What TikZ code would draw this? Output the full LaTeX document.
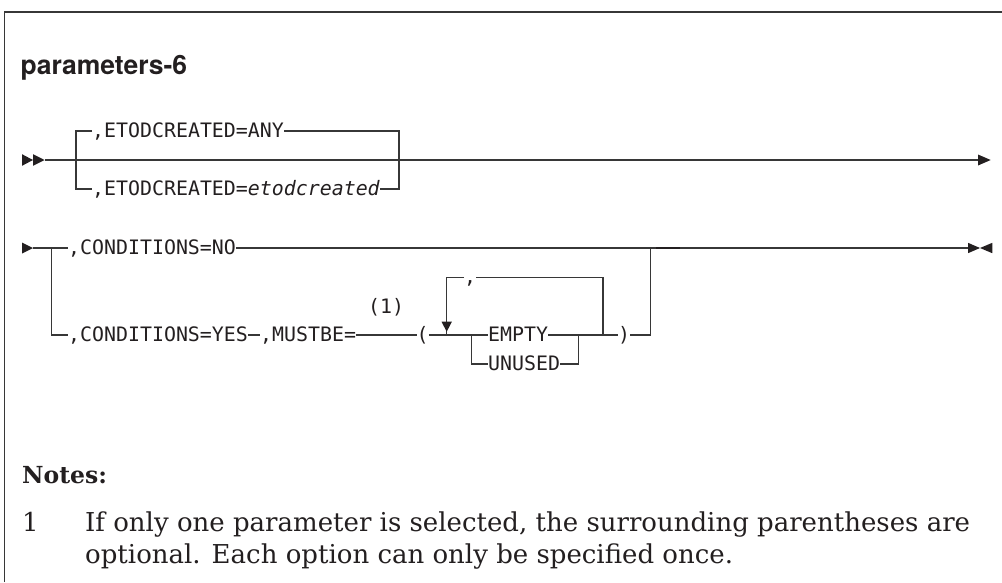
\documentclass[tikz,border=0pt]{standalone}
\usepackage{fontspec}
\newfontfamily\railfont{DejaVu Sans Mono}
\newfontfamily\titlefont{TeX Gyre Heros}
\newfontfamily\notesfont{DejaVu Serif}
\definecolor{ink}{RGB}{35,31,32}
\definecolor{ln}{RGB}{55,55,55}
\tikzset{
  rr/.style={font=\railfont\fontsize{19.9}{24}\selectfont, inner sep=0pt, text height=14pt, text depth=1pt, anchor=west, text=ink},
  wire/.style={draw=ln, line width=1.1pt},
  tip/.style={fill=ink, draw=none},
  notefont/.style={font=\notesfont\fontsize{26}{30}\selectfont, inner sep=0pt, anchor=base west, text=ink}
}
\begin{document}
\begin{tikzpicture}[x=1pt,y=-1pt]
\useasboundingbox (0,0) rectangle (1002,582);
% frame
\draw[ln, line width=1.3pt] (4.5,582) -- (4.5,12) -- (1002,12);
% title
\node[inner sep=0pt, anchor=base west, text=ink, font=\titlefont\bfseries\fontsize{26.5}{30}\selectfont] (title) at (20.5,74) {parameters-6};

% ---------- row 1 ----------
\coordinate (s1) at (44.5,160);
\coordinate (j1L) at (76,160);
\coordinate (j1R) at (399,160);
\coordinate (e1) at (978,160);
\node[rr] (any) at (92,131) {,ETODCREATED=ANY};
\node[rr] (etod) at (92,189) {,ETODCREATED=\textit{etodcreated}};
\draw[wire] (s1) -- (e1);
\draw[wire] (any.west) -| (j1L) |- (etod.west);
\draw[wire] (any.east) -| (j1R) |- (etod.east);
\fill[tip] (22,154.2) -- (33,160) -- (22,165.8) -- cycle;
\fill[tip] (33,154.2) -- (44.5,160) -- (33,165.8) -- cycle;
\fill[tip] (978,154.5) -- (990.7,160) -- (978,165.5) -- cycle;

% ---------- row 2 ----------
\coordinate (s2) at (33,248);
\coordinate (j2L) at (51.7,248);
\coordinate (j2R) at (650.7,248);
\coordinate (e2) at (968,248);
\coordinate (j3) at (446.7,335);
\coordinate (j4) at (471.7,335);
\coordinate (j5) at (578.3,335);
\coordinate (j6) at (603,335);
\node[rr] (no) at (68,248) {,CONDITIONS=NO};
\node[rr] (yes) at (68,335) {,CONDITIONS=YES};
\node[rr] (mustbe) at (260,335) {,MUSTBE=};
\node[rr] (ref1) at (368,306.5) {(1)};
\node[rr] (lpar) at (416.5,335) {(};
\node[rr] (sep) at (464,277.3) {,};
\node[rr] (empty) at (488,335) {EMPTY};
\node[rr] (unused) at (488,364) {UNUSED};
\node[rr] (rpar) at (618,335) {)};

\draw[wire] (s2) -- (j2L) |- (no.west);
\draw[wire] (no.east) -- (e2);
\draw[draw=ink, line width=1.8pt] (656,248) -- (680,248);
\draw[wire] (j2L) |- (yes.west);
\draw[wire] (yes.east) -- (mustbe.west);
\draw[wire] (mustbe.east) -- (lpar.west);
\draw[wire] (lpar.east) -- (j4) |- (empty.west);
\draw[wire] (j4) |- (unused.west);
\draw[wire] (empty.east) -- (j5) -- (rpar.west);
\draw[wire] (unused.east) -| (j5);
\draw[wire] (rpar.east) -| (j2R);
% repeat loop
\draw[wire] (sep.west) -| (j3);
\draw[wire] (sep.east) -| (j6);
\fill[tip] (441.5,321.7) -- (451.9,321.7) -- (446.7,331.7) -- cycle;
% ends
\fill[tip] (22,242.5) -- (33,248) -- (22,253.5) -- cycle;
\fill[tip] (968,242.8) -- (980,248) -- (968,253.2) -- cycle;
\fill[tip] (992.3,242.8) -- (980,248) -- (992.3,253.2) -- cycle;

% ---------- notes ----------
\node[notefont, font=\notesfont\bfseries\fontsize{23.5}{30}\selectfont] (notes) at (22,483) {Notes:};
\node[notefont] (n1) at (22,531.7) {1};
\node[notefont] (l1) at (85,531.7) {If only one parameter is selected, the surrounding parentheses are};
\node[notefont] (l2) at (85,563) {optional. Each option can only be specified once.};
\end{tikzpicture}
\end{document}
